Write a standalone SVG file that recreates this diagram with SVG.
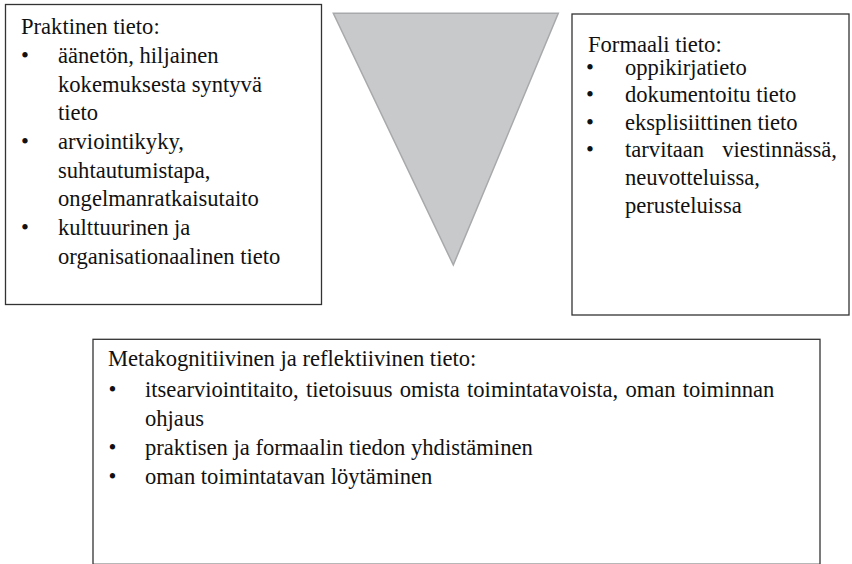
<svg xmlns="http://www.w3.org/2000/svg" width="852" height="564" viewBox="0 0 852 564" font-family="'Liberation Serif', 'Times New Roman', serif">
<style>
.box{fill:#fff;stroke:#333;stroke-width:1.3}
text{font-family:'Liberation Serif','Times New Roman',serif;fill:#111;font-size:22.6px}
</style>
<rect width="852" height="564" fill="#fff"/>
<g id="praktinen">
<rect class="box" x="5.5" y="4.5" width="316" height="300"/>
<text x="21" y="34">Praktinen tieto:</text>
<text x="21" y="63">•</text>
<text x="58" y="63">äänetön, hiljainen</text>
<text x="58" y="91.5">kokemuksesta syntyvä</text>
<text x="58" y="120">tieto</text>
<text x="21" y="149">•</text>
<text x="58" y="149">arviointikyky,</text>
<text x="58" y="177.5">suhtautumistapa,</text>
<text x="58" y="206">ongelmanratkaisutaito</text>
<text x="21" y="235">•</text>
<text x="58" y="235">kulttuurinen ja</text>
<text x="58" y="263.5">organisationaalinen tieto</text>
</g>
<g id="triangle">
<polygon points="333.3,13.3 558.3,13.3 453.3,265" fill="#c8c9cb" stroke="#a8a9ab" stroke-width="1.5"/>
</g>
<g id="formaali">
<rect class="box" x="572" y="14" width="277" height="301"/>
<text x="588" y="52">Formaali tieto:</text>
<text x="586" y="74.5">•</text>
<text x="625" y="74.5">oppikirjatieto</text>
<text x="586" y="102">•</text>
<text x="625" y="102">dokumentoitu tieto</text>
<text x="586" y="130">•</text>
<text x="625" y="130">eksplisiittinen tieto</text>
<text x="586" y="157">•</text>
<text x="625" y="157">tarvitaan</text>
<text x="837" y="157" text-anchor="end">viestinnässä,</text>
<text x="625" y="185">neuvotteluissa,</text>
<text x="625" y="213">perusteluissa</text>
</g>
<g id="metakognitiivinen">
<rect class="box" x="93" y="339.3" width="727" height="225"/>
<text x="108" y="366">Metakognitiivinen ja reflektiivinen tieto:</text>
<text x="108.5" y="396.5">•</text>
<text x="145" y="396.5" word-spacing="1.5">itsearviointitaito, tietoisuus omista toimintatavoista, oman toiminnan</text>
<text x="145" y="425.5">ohjaus</text>
<text x="108.5" y="455">•</text>
<text x="145" y="455">praktisen ja formaalin tiedon yhdistäminen</text>
<text x="108.5" y="484">•</text>
<text x="145" y="484">oman toimintatavan löytäminen</text>
</g>
</svg>
